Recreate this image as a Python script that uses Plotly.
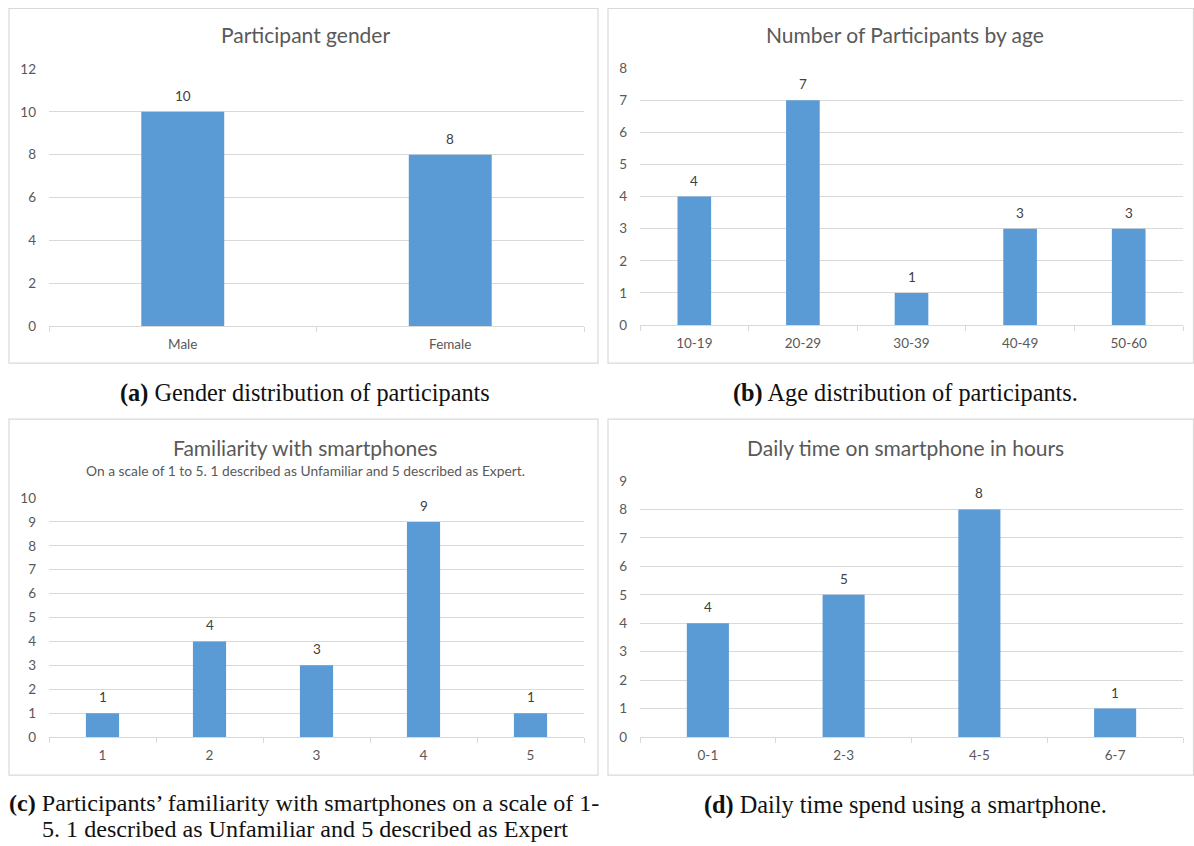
import plotly.graph_objects as go

W, H = 1194, 846

gender_cats = ["Male", "Female"]
gender_vals = [10, 8]

age_cats = ["10-19", "20-29", "30-39", "40-49", "50-60"]
age_vals = [4, 7, 1, 3, 3]

fam_cats = ["1", "2", "3", "4", "5"]
fam_vals = [1, 4, 3, 9, 1]

time_cats = ["0-1", "2-3", "4-5", "6-7"]
time_vals = [4, 5, 8, 1]

BAR = "#5b9bd5"
GRID = "#d9d9d9"
TXT = "#595959"
SANS = "Lato, 'Open Sans', sans-serif"
SERIF = "'Liberation Serif', 'DejaVu Serif', serif"

# the captured picture shows the page with a small vertical offset/scale;
# convert target picture rows into figure paper fractions accordingly
Y_OFF, Y_SCALE = 8.0, 0.981

def px_x(p):
    return p / W

def px_y(p):
    f = (p - Y_OFF) / Y_SCALE
    f = min(max(f, 0.5), H - 0.5)
    return 1 - f / H

panels = [
    (gender_cats, gender_vals, (49, 584), (326, 69), 12, 2),
    (age_cats, age_vals, (640, 1183), (325, 68), 8, 1),
    (fam_cats, fam_vals, (49, 584), (737, 498), 10, 1),
    (time_cats, time_vals, (640, 1183), (737, 481), 9, 1),
]

fig = go.Figure()
layout_axes = {}
ann = []
for i, (cats, vals, xr, yr, ymax, dt) in enumerate(panels, start=1):
    xa = "x" if i == 1 else f"x{i}"
    ya = "y" if i == 1 else f"y{i}"
    fig.add_trace(go.Bar(
        x=cats, y=vals, xaxis=xa, yaxis=ya,
        marker=dict(color=BAR, line=dict(width=0)),
        showlegend=False, hoverinfo="x+y",
    ))
    for j, v in enumerate(vals):
        ann.append(dict(x=j, y=v, xref=xa, yref=ya, text=str(v), showarrow=False,
                        xanchor="center", yanchor="bottom", yshift=6,
                        font=dict(family=SANS, size=13.5, color="#404040")))
    xkey = "xaxis" if i == 1 else f"xaxis{i}"
    ykey = "yaxis" if i == 1 else f"yaxis{i}"
    layout_axes[xkey] = dict(
        domain=[px_x(xr[0]), px_x(xr[1])], anchor=ya,
        type="category", range=[-0.5, len(cats) - 0.5],
        showline=True, linecolor=GRID, linewidth=1,
        ticks="outside", tickson="boundaries", ticklen=5, tickcolor=GRID,
        showgrid=False, fixedrange=True,
        tickfont=dict(family=SANS, size=13.5, color=TXT),
        ticklabelstandoff=6,
    )
    layout_axes[ykey] = dict(
        domain=[px_y(yr[0]), px_y(yr[1])], anchor=xa,
        range=[0, ymax], dtick=dt, tick0=0,
        showline=False, zeroline=False,
        showgrid=True, gridcolor=GRID, gridwidth=1,
        ticks="", fixedrange=True,
        tickfont=dict(family=SANS, size=13.5, color=TXT),
        ticklabelstandoff=12,
    )

fig.update_layout(**layout_axes)

boxes = [(9, 7, 598, 363), (608, 7, 1193.5, 363), (9, 419, 598, 775), (608, 419, 1193.5, 775)]
shapes = []
for x0, y0, x1, y1 in boxes:
    shapes.append(dict(type="rect", xref="paper", yref="paper",
                       x0=px_x(x0), x1=px_x(x1), y0=px_y(y1), y1=px_y(y0),
                       line=dict(color=GRID, width=1.2), fillcolor="rgba(0,0,0,0)", layer="below"))

def add_text(text, x, y, size, family, color, xanchor="center"):
    ann.append(dict(text=text, x=px_x(x), y=px_y(y), xref="paper", yref="paper",
                    xanchor=xanchor, yanchor="middle", showarrow=False, align="left",
                    font=dict(family=family, size=size, color=color)))

add_text("Participant gender", 305, 34, 21, SANS, TXT)
add_text("Number of Participants by age", 905, 34, 21, SANS, TXT)
add_text("Familiarity with smartphones", 305, 447, 21, SANS, TXT)
add_text("On a scale of 1 to 5. 1 described as Unfamiliar and 5 described as Expert.", 305, 470, 13.8, SANS, TXT)
add_text("Daily time on smartphone in hours", 905, 447, 21, SANS, TXT)

CAP = "#111111"
add_text("<b>(a)</b> Gender distribution of participants", 305, 393, 24.3, SERIF, CAP)
add_text("<b>(b)</b> Age distribution of participants.", 905, 393, 24.3, SERIF, CAP)
add_text("<b>(c)</b> Participants’ familiarity with smartphones on a scale of 1-", 7, 803, 24.1, SERIF, CAP, xanchor="left")
add_text("5. 1 described as Unfamiliar and 5 described as Expert", 40, 829, 24.1, SERIF, CAP, xanchor="left")
add_text("<b>(d)</b> Daily time spend using a smartphone.", 905, 805, 24.3, SERIF, CAP)

fig.update_layout(
    width=W, height=H, autosize=False,
    margin=dict(l=0, r=0, t=0, b=0),
    paper_bgcolor="white", plot_bgcolor="white",
    bargap=0.69, showlegend=False,
    shapes=shapes, annotations=ann,
)

fig.write_html(
    "out.html",
    config={"displayModeBar": False},
    post_script=(
        "document.documentElement.style.margin='0';"
        "document.body.style.margin='0';"
        "document.body.style.overflow='hidden';"
        "var gd=document.getElementById('{plot_id}');"
        "gd.style.position='fixed';gd.style.left='0px';gd.style.top='0px';"
    ),
)
